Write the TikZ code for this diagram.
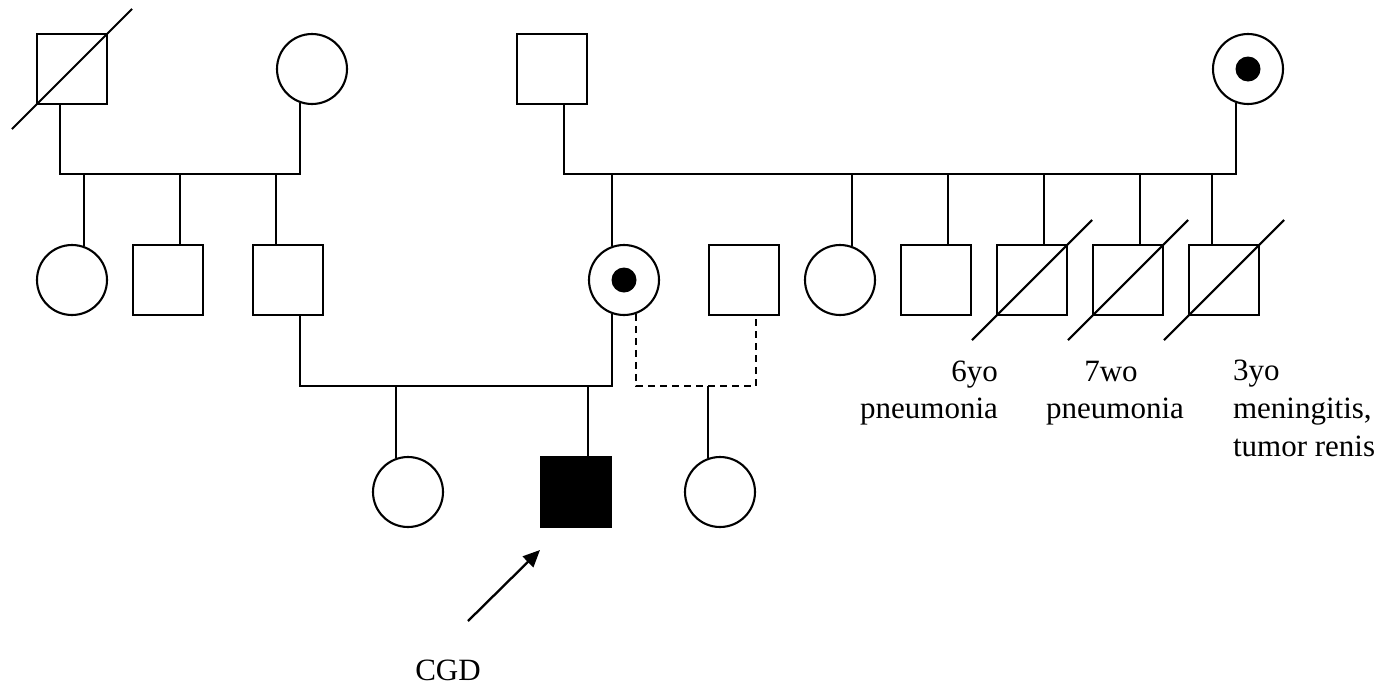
\documentclass[tikz,border=0pt]{standalone}
\usepackage{fontspec}
\setmainfont{Liberation Serif}
\usetikzlibrary{arrows.meta,calc}

\tikzset{
  male/.style={draw, rectangle, minimum size=70pt, inner sep=0pt},
  female/.style={draw, circle, minimum size=70pt, inner sep=0pt},
  affected/.style={fill=black},
  carrier/.style={female, path picture={\fill[black] (path picture bounding box.center) circle (12.5pt);}},
  note/.style={inner sep=0pt, font=\fontsize{31}{37}\selectfont},
  union/.style={line width=2.1pt},
  adoptive/.style={line width=2.1pt, dash pattern=on 7pt off 5pt},
  deceased/.style={line width=2.1pt},
  proband/.style={line width=2.3pt, -{Triangle[length=17pt,width=15pt]}},
}

\newcommand{\deadmark}[1]{%
  \draw[deceased] ($(#1.south west)+(-24pt,-24pt)$) -- ($(#1.north east)+(24pt,24pt)$);}

\begin{document}
\begin{tikzpicture}[x=1pt, y=-1pt, line width=2.1pt]
\useasboundingbox (0,0) rectangle (1384,689);

% generation I
\node[male]    (gfA) at (72,69)   {};
\node[female]  (gmA) at (312,69)  {};
\node[male]    (gfB) at (552,69)  {};
\node[carrier] (gmB) at (1248,69) {};
\deadmark{gfA}

% generation II
\node[female]  (a1) at (72,280)   {};
\node[male]    (a2) at (168,280)  {};
\node[male]    (fa) at (288,280)  {};
\node[carrier] (mo) at (624,280)  {};
\node[male]    (pa) at (744,280)  {};
\node[female]  (b1) at (840,280)  {};
\node[male]    (b2) at (936,280)  {};
\node[male]    (d1) at (1032,280) {};
\node[male]    (d2) at (1128,280) {};
\node[male]    (d3) at (1224,280) {};
\deadmark{d1}
\deadmark{d2}
\deadmark{d3}

% generation III
\node[female]          (k1) at (408,492) {};
\node[male, affected]  (pr) at (576,492) {};
\node[female]          (k3) at (720,492) {};

% sibship lines
\coordinate (uA) at (180,174);
\coordinate (uB) at (900,174);
\coordinate (uC) at (456,386);
\coordinate (uD) at (696,386);

% family A
\draw[union] ([xshift=-12pt]gfA.south) |- (uA) -| (gmA.-110);
\draw (a1.70) |- (uA);
\draw ([xshift=12pt]a2.north) |- (uA);
\draw ([xshift=-12pt]fa.north) |- (uA);

% family B
\draw[union] ([xshift=12pt]gfB.south) |- (uB) -| (gmB.-110);
\draw (mo.110) |- (uB);
\draw (b1.70) |- (uB);
\draw ([xshift=12pt]b2.north) |- (uB);
\draw ([xshift=12pt]d1.north) |- (uB);
\draw ([xshift=12pt]d2.north) |- (uB);
\draw ([xshift=-12pt]d3.north) |- (uB);

% parents of the proband
\draw[union] ([xshift=12pt]fa.south) |- (uC) -| (mo.-110);
\draw (k1.110) |- (uC);
\draw ([xshift=12pt]pr.north) |- (uC);

% second partnership of the mother
\draw[adoptive] (mo.-70) |- (uD) -| ([xshift=12pt]pa.south);
\draw (k3.110) -- (k3.110 |- uD);

% proband arrow
\coordinate (arrTail) at (468,621);
\coordinate (arrTip)  at (540,550);
\draw[proband] (arrTail) -- (arrTip);
\node[note, anchor=base] (cgd) at (448,680) {CGD};

% notes on the deceased brothers
\node[note, anchor=base east] (n1a) at (999,381) {6yo};
\node[note, anchor=base east] (n1b) at (999,418) {pneumonia};
\node[note, anchor=base]      (n2a) at (1111,381) {7wo};
\node[note, anchor=base]      (n2b) at (1115,418) {pneumonia};
\node[note, anchor=base west] (n3a) at (1232,380) {3yo};
\node[note, anchor=base west] (n3b) at (1232,418) {meningitis,};
\node[note, anchor=base west] (n3c) at (1232,456) {tumor renis};
\end{tikzpicture}
\end{document}
